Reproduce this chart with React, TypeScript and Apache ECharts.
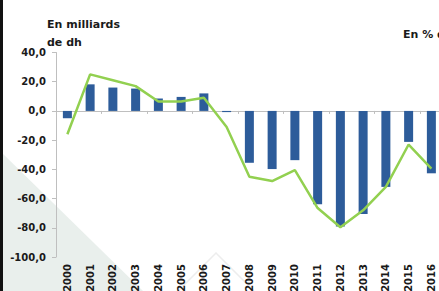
import React, { useEffect, useRef } from "react";
import * as echarts from "echarts";

const years = ["2000","2001","2002","2003","2004","2005","2006","2007","2008","2009","2010","2011","2012","2013","2014","2015","2016"];
const balanceBn = [-5, 18.2, 16, 15.3, 8.5, 9.6, 12, -0.8, -35.5, -39.8, -33.7, -63.9, -79.2, -70.5, -52, -21.2, -42.7];
const balancePct = [-16, 25, 21, 17, 6.5, 6.5, 9, -11, -45, -48, -40.5, -66.5, -79.6, -68, -52, -23, -39.5];
const yTicks = { min: -100, max: 40, interval: 20 };

const FONT = "DejaVu Sans";

const titleStyle = (text: string) => ({
  text,
  fontSize: 11,
  fontWeight: "bold",
  fontFamily: FONT,
  fill: "#1a1a1a",
  textAlign: "left",
  textVerticalAlign: "middle",
});

export default function App() {
  const ref = useRef<HTMLDivElement>(null);
  useEffect(() => {
    document.body.style.margin = "0";
    if (!ref.current) return;
    const chart = echarts.init(ref.current, null, { renderer: "svg" });
    chart.setOption({
      animation: false,
      backgroundColor: "#ffffff",
      textStyle: { fontFamily: FONT },
      grid: { left: 56, top: 52.5, width: 386.75, height: 204.5, containLabel: false, outerBoundsMode: "none" },
      graphic: [
        { type: "polygon", z: -10, shape: { points: [[0, 151], [143, 291], [0, 291]] }, style: { fill: "#E9EFEC" } },
        { type: "polyline", z: -9, shape: { points: [[178, 291], [216, 253], [254, 291]] }, style: { stroke: "#EDEDED", lineWidth: 1.5, fill: "none" } },
        { type: "rect", z: 10, shape: { x: 0, y: 0, width: 3, height: 291 }, style: { fill: "#111111" } },
        { type: "text", x: 47, y: 24, style: titleStyle("En milliards") },
        { type: "text", x: 47, y: 42, style: titleStyle("de dh") },
        { type: "text", x: 403, y: 34, style: titleStyle("En % du PIB") },
      ],
      xAxis: [
        {
          type: "category",
          data: years,
          position: "bottom",
          axisLine: { show: false, onZero: false },
          axisTick: { show: false },
          axisLabel: { rotate: 90, margin: 7, fontSize: 10, fontWeight: "bold", color: "#1a1a1a", fontFamily: FONT },
        },
        {
          type: "category",
          data: years,
          position: "bottom",
          axisLine: { show: true, onZero: true, lineStyle: { color: "#BFBFBF", width: 1 } },
          axisTick: { show: true, length: 3, inside: false, lineStyle: { color: "#BFBFBF" } },
          axisLabel: { show: false },
        },
      ],
      yAxis: {
        type: "value",
        min: yTicks.min,
        max: yTicks.max,
        interval: yTicks.interval,
        axisLine: { show: true, lineStyle: { color: "#BFBFBF", width: 1 } },
        axisTick: { show: true, length: 4, lineStyle: { color: "#BFBFBF" } },
        splitLine: { show: false },
        axisLabel: {
          margin: 10,
          fontSize: 10,
          fontWeight: "bold",
          color: "#1a1a1a",
          fontFamily: FONT,
          formatter: (v: number) => v.toFixed(1).replace(".", ","),
        },
      },
      series: [
        {
          type: "bar",
          xAxisIndex: 0,
          data: balanceBn,
          barWidth: 9,
          itemStyle: { color: "#2D5C9A" },
        },
        {
          type: "line",
          xAxisIndex: 0,
          data: balancePct,
          symbol: "none",
          lineStyle: { color: "#92D050", width: 2.5 },
          z: 5,
        },
      ],
    });
    return () => chart.dispose();
  }, []);
  return <div ref={ref} style={{ width: 439, height: 291 }} />;
}
